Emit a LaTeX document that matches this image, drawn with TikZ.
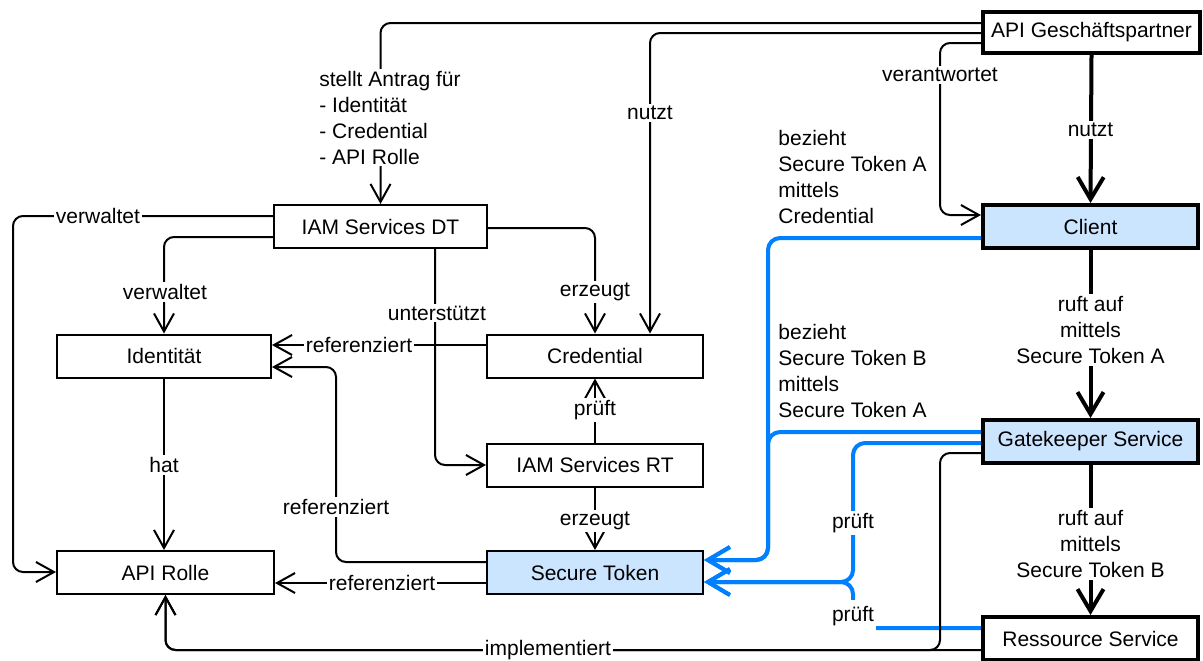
\documentclass[tikz,border=0pt]{standalone}
\usepackage{fontspec}
\setmainfont{Liberation Sans}
\usetikzlibrary{arrows.meta}
\definecolor{tokblue}{RGB}{0,127,255}
\definecolor{tokfill}{RGB}{204,229,255}
\newcommand{\lblfont}{\fontsize{10.5}{13}\selectfont}
\tikzset{
  box/.style={draw, line width=1pt, minimum height=21.5pt, inner sep=0pt, font=\lblfont},
  bbox/.style={box, line width=2pt},
  tok/.style={fill=tokfill},
  conn/.style={line width=1pt, rounded corners=5pt, -{Straight Barb[length=9pt,width=10pt]}},
  tconn/.style={line width=2pt, -{Straight Barb[length=11pt,width=13pt]}},
  bconn/.style={tconn, draw=tokblue, rounded corners=6pt},
  lbl/.style={fill=white, inner sep=1pt, font=\lblfont},
  txt/.style={inner sep=0pt, font=\lblfont, align=left}
}
\begin{document}
\begin{tikzpicture}[x=0.5pt, y=-0.5pt]
\useasboundingbox (0,0) rectangle (1203,660);

% boxes
\node[bbox, minimum width=108.5pt, minimum height=20.5pt] (gp) at (1091.5,32.5) {API Geschäftspartner};
\node[bbox, tok, minimum width=107.5pt] (client) at (1090.5,226.5) {Client};
\node[bbox, tok, minimum width=107.5pt] (gate) at (1090.5,441.5) {Gatekeeper Service};
\node[bbox, minimum width=107.5pt] (res) at (1090.5,638.5) {Ressource Service};
\node[box, minimum width=106.5pt] (iamdt) at (380.5,226.5) {IAM Services DT};
\node[box, minimum width=107pt] (ident) at (164,356) {Identität};
\node[box, minimum width=108pt] (cred) at (595,356) {Credential};
\node[box, minimum width=108pt] (iamrt) at (595,465) {IAM Services RT};
\node[box, minimum width=108.5pt] (rolle) at (165.5,572.5) {API Rolle};
\node[box, tok, minimum width=108pt] (st) at (595,572.5) {Secure Token};

% business partner relations
\draw[conn] (gp.west |- 0,23) -| (iamdt.north);
\draw[conn] (gp.west |- 0,33) -| (650,0 |- cred.north);
\draw[conn] (gp.west |- 0,43) -| (940,215) -- (client.west |- 0,215);
\draw[tconn] (gp.south) -- (client.north);

% call chain
\draw[tconn] (client.south) -- (gate.north);
\draw[tconn] (gate.south) -- (res.north);

% token flows
\draw[bconn] (client.west |- 0,238) -| (768,560) -- (st.east |- 0,560);
\draw[bconn] (gate.west |- 0,432) -| (768,560) -- (st.east |- 0,560);
\draw[bconn] (gate.west |- 0,443) -| (853,582) -- (st.east |- 0,582);
\draw[bconn] (res.west |- 0,628) -| (853,582) -- (st.east |- 0,582);

% implementation of roles
\draw[conn] (gate.west |- 0,453) -| (940,650) -| (rolle.south);
\draw[conn] (res.west |- 0,650) -| (rolle.south);

% IAM relations
\draw[conn] (iamdt.west |- 0,216) -| (13,572) -- (rolle.west |- 0,572);
\draw[conn] (iamdt.west |- 0,237) -| (ident.north);
\draw[conn] (iamdt.east |- 0,228) -| (cred.north);
\draw[conn] (435,0 |- iamdt.south) |- (iamrt.west);
\draw[conn] (cred.west |- 0,345) -- (ident.east |- 0,345);
\draw[conn] (iamrt.north) -- (cred.south);
\draw[conn] (iamrt.south) -- (st.north);
\draw[conn] (st.west |- 0,562) -| (336,367) -- (ident.east |- 0,367);
\draw[conn] (st.west |- 0,583) -- (rolle.east |- 0,583);
\draw[conn] (ident.south) -- (ident.south |- rolle.north);

% labels
\node[lbl, align=left] at (390,117.5) {stellt Antrag für\\- Identität\\- Credential\\- API Rolle};
\node[lbl] at (650,113) {nutzt};
\node[lbl] at (940,75) {verantwortet};
\node[lbl] at (1090.5,130) {nutzt};
\node[lbl, align=center] at (1090.5,330) {ruft auf\\mittels\\Secure Token A};
\node[lbl, align=center] at (1090.5,544) {ruft auf\\mittels\\Secure Token B};
\node[txt, anchor=west] at (778,177) {bezieht\\Secure Token A\\mittels\\Credential};
\node[txt, anchor=west] at (778,371) {bezieht\\Secure Token B\\mittels\\Secure Token A};
\node[lbl] at (853,523) {prüft};
\node[lbl, inner ysep=3pt] at (853,616) {prüft};
\node[lbl] at (548,650) {implementiert};
\node[lbl] at (98,216) {verwaltet};
\node[lbl] at (165,292) {verwaltet};
\node[lbl] at (595,292) {erzeugt};
\node[lbl] at (437,313) {unterstützt};
\node[lbl] at (359,345) {referenziert};
\node[lbl] at (595,410) {prüft};
\node[lbl] at (595,521) {erzeugt};
\node[lbl] at (336,507) {referenziert};
\node[lbl] at (382,583) {referenziert};
\node[lbl] at (164,465) {hat};
\end{tikzpicture}
\end{document}
